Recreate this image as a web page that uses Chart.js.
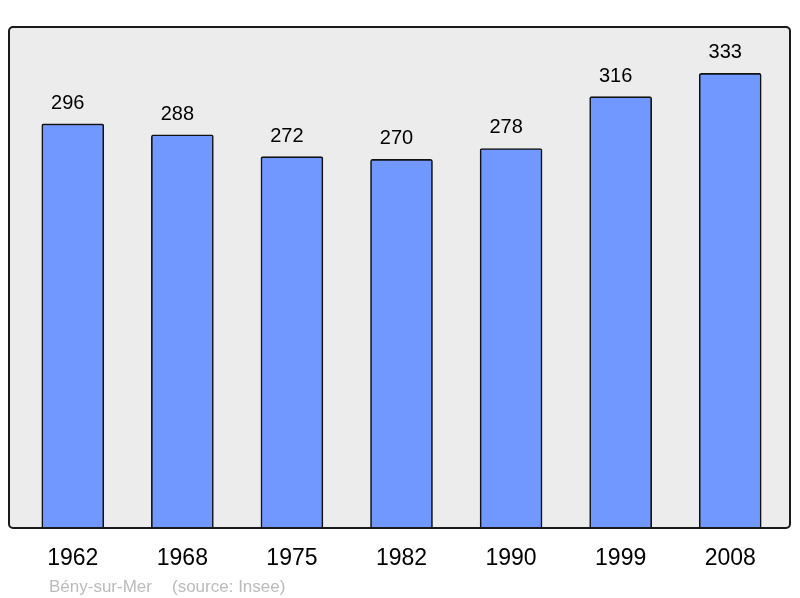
<!DOCTYPE html>
<html>
<head>
<meta charset="utf-8">
<script src="https://cdn.jsdelivr.net/npm/chart.js@4/dist/chart.umd.min.js"></script>
<style>
  html, body { margin: 0; padding: 0; background: #fff; }
  canvas { display: block; }
</style>
</head>
<body>
<canvas id="pop" width="800" height="598"></canvas>
<script>
// population by census year
const years = ['1962', '1968', '1975', '1982', '1990', '1999', '2008'];
const population = [296, 288, 272, 270, 278, 316, 333];
const commune = 'Bény-sur-Mer';
const source = '(source: Insee)';

// frame + grey background behind the bars, value labels above them
const framePlugin = {
  id: 'frame',
  beforeDatasetsDraw(chart) {
    const ctx = chart.ctx;
    ctx.save();
    ctx.fillStyle = '#ececec';
    ctx.beginPath();
    ctx.roundRect(9, 27, 781, 501, 4);
    ctx.fill();
    ctx.restore();
  },
  afterDatasetsDraw(chart) {
    const ctx = chart.ctx;
    ctx.save();
    ctx.strokeStyle = '#1a1a1a';
    ctx.lineWidth = 2;
    ctx.beginPath();
    ctx.roundRect(9, 27, 781, 501, 4);
    ctx.stroke();

    // values above bars (sit a touch left of centre in the original)
    ctx.fillStyle = '#000';
    ctx.font = '20px "Liberation Sans", Arial, sans-serif';
    ctx.textAlign = 'center';
    ctx.textBaseline = 'alphabetic';
    chart.getDatasetMeta(0).data.forEach((bar, i) => {
      ctx.fillText(String(population[i]), bar.x - 5, bar.y - 15);
    });

    // source line
    ctx.fillStyle = '#bbbbbb';
    ctx.font = '17px "Liberation Sans", Arial, sans-serif';
    ctx.textAlign = 'left';
    ctx.fillText(commune, 49, 592);
    ctx.fillText(source, 172, 592);
    ctx.restore();
  }
};

new Chart(document.getElementById('pop'), {
  type: 'bar',
  data: {
    labels: years,
    datasets: [{
      data: population,
      backgroundColor: '#7098ff',
      borderColor: '#111',
      borderWidth: 1.6,
      borderRadius: 2,
      borderSkipped: 'bottom',
      barThickness: 62
    }]
  },
  options: {
    responsive: false,
    animation: false,
    devicePixelRatio: 1,
    layout: { padding: { left: 18, right: 15, top: 27, bottom: 0 } },
    plugins: { legend: { display: false }, tooltip: { enabled: false } },
    scales: {
      x: {
        grid: { display: false, drawTicks: false },
        border: { display: false },
        ticks: {
          color: '#000',
          padding: 17,
          font: { family: '"Liberation Sans", Arial, sans-serif', size: 23 }
        },
        afterFit(scale) { scale.height = 70; }
      },
      y: {
        display: false,
        min: 0,
        max: 367
      }
    }
  },
  plugins: [framePlugin]
});
</script>
</body>
</html>
